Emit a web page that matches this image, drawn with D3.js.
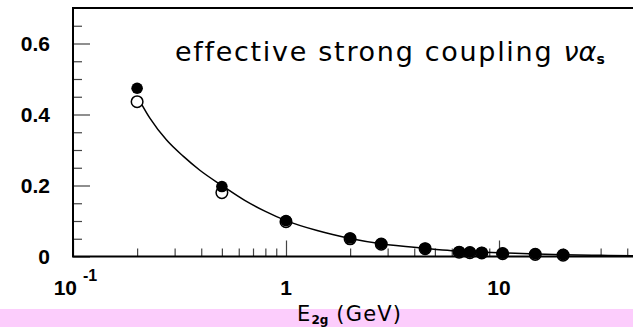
<!DOCTYPE html>
<html>
<head>
<meta charset="utf-8">
<script src="https://cdn.jsdelivr.net/npm/d3@7/dist/d3.min.js"></script>
<style>
  html, body { margin: 0; padding: 0; background: #fff; }
  svg { display: block; }
</style>
</head>
<body>
<svg id="chart" width="633" height="327"></svg>
<script>
// ---- data ----
const energies = [0.2, 0.5, 1.0, 2.0, 2.8, 4.5, 6.5, 7.3, 8.3, 10.4, 14.8, 20];
const filledValues = [0.474, 0.197, 0.101, 0.052, 0.036, 0.023, 0.013, 0.012, 0.011, 0.009, 0.007, 0.005];
const openValues = [0.436, 0.180, 0.098, 0.050, 0.035, 0.022, 0.012, 0.011, 0.010, 0.008, 0.006, 0.004];
const curveE = [0.205, 0.23, 0.275, 0.33, 0.394, 0.5, 0.64, 0.8, 1.0, 1.4, 2.0, 2.8, 4.5, 6, 8, 10, 15, 20, 30, 45];
const curveV = [0.44, 0.389, 0.328, 0.282, 0.243, 0.200, 0.158, 0.127, 0.101, 0.073, 0.051, 0.036, 0.023, 0.0165, 0.013, 0.0105, 0.007, 0.0052, 0.0033, 0.002];
const xMajorTicks = [0.1, 1, 10];
const xTickLabels = ["10", "1", "10"];
const xMinorTicks = [0.2,0.3,0.4,0.5,0.6,0.7,0.8,0.9,2,3,4,5,6,7,8,9,20,30,40];
const yMajorTicks = [0, 0.2, 0.4, 0.6];
const yTickLabels = ["0", "0.2", "0.4", "0.6"];
const yMinorTicks = [0.05,0.1,0.15,0.25,0.3,0.35,0.45,0.5,0.55,0.65];

// ---- layout ----
const svg = d3.select("#chart");
const x0 = 73, yTop = 8, yBot = 256.5;
const x = d3.scaleLog().domain([0.1, 50]).range([x0, x0 + 213 * Math.log10(500)]);
const y = d3.scaleLinear().domain([0, 0.7]).range([yBot, yTop]);

// pink band
svg.append("rect").attr("x", 0).attr("y", 309).attr("width", 633).attr("height", 18).attr("fill", "#fccdfc");

// axes ticks
const tickCol = "#444";
function styleAxis(g) {
  g.select(".domain").remove();
  g.selectAll("line").attr("stroke", tickCol).attr("stroke-width", 1.2);
  g.selectAll("text").remove();
}
svg.append("g").attr("transform", `translate(0,${yBot})`)
  .call(d3.axisBottom(x).tickValues(xMajorTicks).tickSize(-16)).call(styleAxis);
svg.append("g").attr("transform", `translate(0,${yBot})`)
  .call(d3.axisBottom(x).tickValues(xMinorTicks).tickSize(-8)).call(styleAxis);
svg.append("g").attr("transform", `translate(${x0},0)`)
  .call(d3.axisLeft(y).tickValues(yMajorTicks).tickSize(-17)).call(styleAxis);
svg.append("g").attr("transform", `translate(${x0},0)`)
  .call(d3.axisLeft(y).tickValues(yMinorTicks).tickSize(-9)).call(styleAxis);

// frame
svg.append("rect").attr("x", x0).attr("y", yTop).attr("width", 700).attr("height", yBot - yTop)
  .attr("fill", "none").attr("stroke", "#000").attr("stroke-width", 2);

// tick labels
const lblFont = "'Liberation Sans', Arial, sans-serif";
svg.append("g").selectAll("text").data(yMajorTicks).join("text")
  .attr("x", 50).attr("y", d => y(d) + 7.5)
  .attr("text-anchor", "end").attr("font-family", lblFont).attr("font-weight", "bold")
  .attr("font-size", 21).text((d, i) => yTickLabels[i]);

const xl = svg.append("g");
xMajorTicks.forEach((t, i) => {
  const t1 = xl.append("text").attr("y", 295).attr("font-family", lblFont).attr("font-weight", "bold")
    .attr("font-size", 21).attr("text-anchor", i === 0 ? "end" : "middle");
  if (i === 0) {
    t1.attr("x", x(t) + 4).text(xTickLabels[i]);
    xl.append("text").attr("x", x(t) + 10).attr("y", 281).attr("font-family", lblFont)
      .attr("font-weight", "bold").attr("font-size", 16).text("-1");
  } else {
    t1.attr("x", x(t)).text(xTickLabels[i]);
  }
});

// curve
const line = d3.line().x(d => x(d[0])).y(d => y(d[1])).curve(d3.curveMonotoneX);
svg.append("path").datum(curveE.map((e, i) => [e, curveV[i]]))
  .attr("d", line).attr("fill", "none").attr("stroke", "#000").attr("stroke-width", 1.5);

// markers
svg.append("g").selectAll("circle").data(energies).join("circle")
  .attr("cx", d => x(d)).attr("cy", (d, i) => y(openValues[i])).attr("r", 5.8)
  .attr("fill", "#fff").attr("stroke", "#000").attr("stroke-width", 1.5);
svg.append("g").selectAll("circle").data(energies).join("circle")
  .attr("cx", d => x(d)).attr("cy", (d, i) => y(filledValues[i])).attr("r", 5.8)
  .attr("fill", "#000");

// title
const tFont = "'DejaVu Sans', sans-serif";
const title = svg.append("text").attr("x", 175).attr("y", 61).attr("font-family", tFont)
  .attr("font-size", 27).attr("letter-spacing", 1.7).attr("fill", "#000");
title.append("tspan").text("effective strong coupling ");
title.append("tspan").attr("font-style", "italic").attr("letter-spacing", 0).text("να");
title.append("tspan").attr("font-size", 14).attr("font-weight", "bold").attr("dy", 3).text("s");

// x-axis title
const xt = svg.append("text").attr("x", 297).attr("y", 321)
  .attr("font-family", tFont).attr("font-size", 21).attr("letter-spacing", 1.2).attr("fill", "#000");
xt.append("tspan").text("E");
xt.append("tspan").attr("font-size", 12).attr("font-weight", "bold").attr("dy", 3).attr("letter-spacing", 0).text("2g");
xt.append("tspan").attr("dy", -3).text(" (GeV)");
</script>
</body>
</html>
